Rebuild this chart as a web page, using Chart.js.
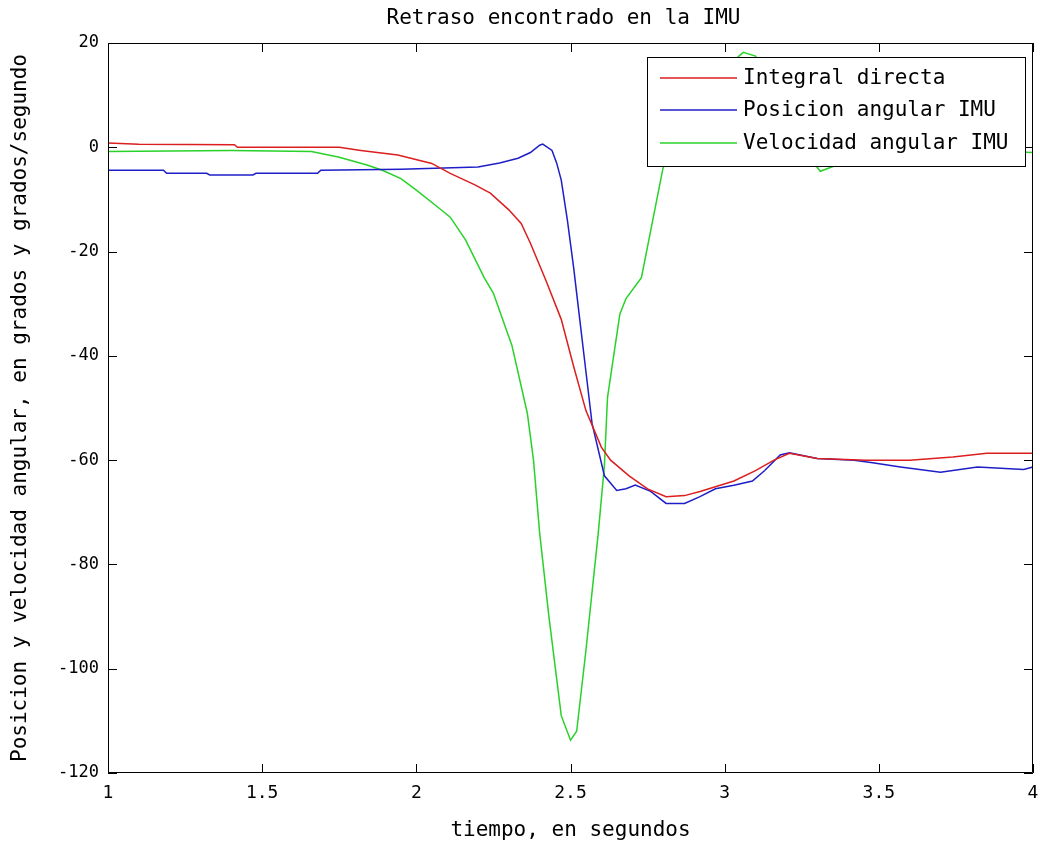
<!DOCTYPE html>
<html>
<head>
<meta charset="utf-8">
<script src="https://cdn.jsdelivr.net/npm/chart.js@4"></script>
<style>
  body { margin: 0; background: #fff; }
</style>
</head>
<body>
<canvas id="myChart" width="1040" height="844"></canvas>
<script>
// Integral directa
var intT = [1.0, 1.1, 1.41, 1.42, 1.75, 1.82, 1.94, 2.05, 2.11, 2.19, 2.24, 2.3, 2.34, 2.37, 2.42, 2.47, 2.51, 2.55, 2.6, 2.63, 2.69, 2.75, 2.81, 2.87, 2.92, 3.03, 3.1, 3.16, 3.21, 3.3, 3.46, 3.6, 3.74, 3.85, 4.0];
var intV = [0.8, 0.6, 0.5, 0, 0, -0.6, -1.5, -3.1, -5, -7.2, -8.8, -12, -14.6, -18.4, -25.5, -33, -42, -50.5, -57.5, -60, -63, -65.5, -67, -66.8, -66, -64, -62, -60, -58.7, -59.7, -60, -60, -59.4, -58.7, -58.7];

// Posicion angular IMU
var posT = [1.0, 1.18, 1.19, 1.32, 1.33, 1.47, 1.48, 1.68, 1.69, 1.95, 2.2, 2.27, 2.33, 2.37, 2.4, 2.41, 2.44, 2.455, 2.47, 2.49, 2.51, 2.53, 2.55, 2.57, 2.61, 2.65, 2.68, 2.71, 2.76, 2.81, 2.87, 2.92, 2.97, 3.03, 3.09, 3.13, 3.18, 3.21, 3.3, 3.42, 3.48, 3.57, 3.7, 3.82, 3.97, 4.0];
var posV = [-4.4, -4.4, -5, -5, -5.3, -5.3, -5, -5, -4.4, -4.2, -3.8, -3, -2.1, -1, 0.4, 0.6, -0.6, -3, -6.3, -14, -23, -33, -43, -53, -63, -65.8, -65.5, -64.8, -66, -68.3, -68.3, -67, -65.5, -64.8, -64, -62, -59, -58.6, -59.7, -60, -60.5, -61.3, -62.3, -61.3, -61.8, -61.3];

// Velocidad angular IMU
var velT = [1.0, 1.4, 1.66, 1.75, 1.84, 1.89, 1.95, 2.0, 2.07, 2.11, 2.16, 2.22, 2.25, 2.31, 2.36, 2.38, 2.4, 2.43, 2.47, 2.5, 2.52, 2.55, 2.59, 2.61, 2.62, 2.66, 2.68, 2.73, 2.77, 2.8, 2.83, 2.88, 2.95, 3.0, 3.06, 3.1, 3.15, 3.2, 3.25, 3.31, 3.36, 3.42, 3.5, 3.7, 3.9, 4.0];
var velV = [-0.8, -0.6, -0.8, -1.9, -3.4, -4.4, -6, -8.2, -11.5, -13.4, -17.8, -25, -28, -38, -51, -60, -74, -90, -109, -113.7, -112, -96.5, -74, -61, -48, -32, -29, -25, -13, -4, 0, 5, 11, 15, 18.2, 17.5, 13, 6, 0, -4.6, -3.5, -1.5, -0.8, -0.8, -0.8, -1];

var xTicks = [1, 1.5, 2, 2.5, 3, 3.5, 4];
var yTicks = [20, 0, -20, -40, -60, -80, -100, -120];

var chartTitle = 'Retraso encontrado en la IMU';
var seriesNames = ['Integral directa', 'Posicion angular IMU', 'Velocidad angular IMU'];
var seriesColors = ['rgb(220,30,30)', 'rgb(30,30,200)', 'rgb(40,210,40)'];

var fontFam = "'DejaVu Sans Mono', 'Liberation Mono', monospace";

function toPoints(ts, vs) {
    var pts = [];
    for (var i = 0; i < ts.length; i++) {
        pts.push({x: ts[i], y: vs[i]});
    }
    return pts;
}

// box, inward ticks, title over the axes and legend, the old matlab way
var boxPlugin = {
    id: 'boxPlugin',
    afterDatasetsDraw: function(chart) {
        var ctx = chart.ctx;
        var a = chart.chartArea;
        var sx = chart.scales.x, sy = chart.scales.y;
        ctx.save();
        ctx.strokeStyle = '#000';
        ctx.lineWidth = 1;
        ctx.beginPath();
        ctx.rect(a.left + 0.5, a.top + 0.5, a.right - a.left - 1, a.bottom - a.top - 1);
        ctx.stroke();
        var len = 9;
        ctx.beginPath();
        xTicks.forEach(function(t) {
            var px = Math.round(sx.getPixelForValue(t)) + 0.5;
            ctx.moveTo(px, a.bottom);
            ctx.lineTo(px, a.bottom - len);
            ctx.moveTo(px, a.top);
            ctx.lineTo(px, a.top + len);
        });
        yTicks.forEach(function(v) {
            var py = Math.round(sy.getPixelForValue(v)) + 0.5;
            ctx.moveTo(a.left, py);
            ctx.lineTo(a.left + len, py);
            ctx.moveTo(a.right, py);
            ctx.lineTo(a.right - len, py);
        });
        ctx.stroke();

        // title
        ctx.fillStyle = '#000';
        ctx.font = '21px ' + fontFam;
        ctx.textAlign = 'center';
        ctx.textBaseline = 'middle';
        ctx.fillText(chartTitle, (a.left + a.right) / 2 - 7, 19);

        // legend box
        var lx = 647, ly = 57, lw = 378, lh = 109;
        ctx.fillStyle = '#fff';
        ctx.fillRect(lx, ly, lw, lh);
        ctx.strokeStyle = '#000';
        ctx.strokeRect(lx + 0.5, ly + 0.5, lw, lh);
        ctx.font = '21px ' + fontFam;
        ctx.textBaseline = 'middle';
        ctx.textAlign = 'left';
        var rows = [78, 110, 143];
        for (var i = 0; i < seriesNames.length; i++) {
            ctx.strokeStyle = seriesColors[i];
            ctx.lineWidth = 1.5;
            ctx.beginPath();
            ctx.moveTo(660, rows[i]);
            ctx.lineTo(737, rows[i]);
            ctx.stroke();
            ctx.fillStyle = '#000';
            ctx.fillText(seriesNames[i], 743, rows[i] + 1);
        }
        ctx.restore();
    }
};

window.addEventListener("load", function() {
    var ctx = document.getElementById('myChart').getContext('2d');
    var datasets = [
        toPoints(intT, intV),
        toPoints(posT, posV),
        toPoints(velT, velV)
    ].map(function(pts, i) {
        return {
            label: seriesNames[i],
            data: pts,
            borderColor: seriesColors[i],
            backgroundColor: seriesColors[i],
            borderWidth: 1.5,
            pointRadius: 0,
            tension: 0,
            fill: false
        };
    });

    var chart = new Chart(ctx, {
        type: 'line',
        data: { datasets: datasets },
        options: {
            responsive: false,
            animation: false,
            devicePixelRatio: 1,
            layout: { padding: { left: 0, right: 0, top: 43, bottom: 0 } },
            plugins: {
                legend: { display: false },
                tooltip: { enabled: false },
                title: { display: false }
            },
            scales: {
                x: {
                    type: 'linear',
                    min: 1,
                    max: 4,
                    afterFit: function(s) { s.height = 71; s.paddingRight = 7; },
                    afterBuildTicks: function(s) { s.ticks = xTicks.map(function(v) { return {value: v}; }); },
                    grid: { display: false, drawTicks: false },
                    border: { display: false },
                    ticks: {
                        color: '#000',
                        padding: 10,
                        maxRotation: 0,
                        font: { family: fontFam, size: 18 },
                        callback: function(v) { return String(v); }
                    },
                    title: {
                        display: true,
                        text: 'tiempo, en segundos',
                        color: '#000',
                        font: { family: fontFam, size: 21, lineHeight: 1 },
                        padding: { top: 0, bottom: 3 }
                    }
                },
                y: {
                    type: 'linear',
                    min: -120,
                    max: 20,
                    afterFit: function(s) { s.width = 108; s.paddingTop = 0; s.paddingBottom = 0; },
                    afterBuildTicks: function(s) { s.ticks = yTicks.map(function(v) { return {value: v}; }); },
                    grid: { display: false, drawTicks: false },
                    border: { display: false },
                    ticks: {
                        color: '#000',
                        padding: 9,
                        font: { family: fontFam, size: 17 },
                        callback: function(v) { return String(v); }
                    },
                    title: {
                        display: true,
                        text: 'Posicion y velocidad angular, en grados y grados/segundo',
                        color: '#000',
                        font: { family: fontFam, size: 21, lineHeight: 1 },
                        padding: { top: 10, bottom: 0 }
                    }
                }
            }
        },
        plugins: [boxPlugin]
    });
});
</script>
</body>
</html>
